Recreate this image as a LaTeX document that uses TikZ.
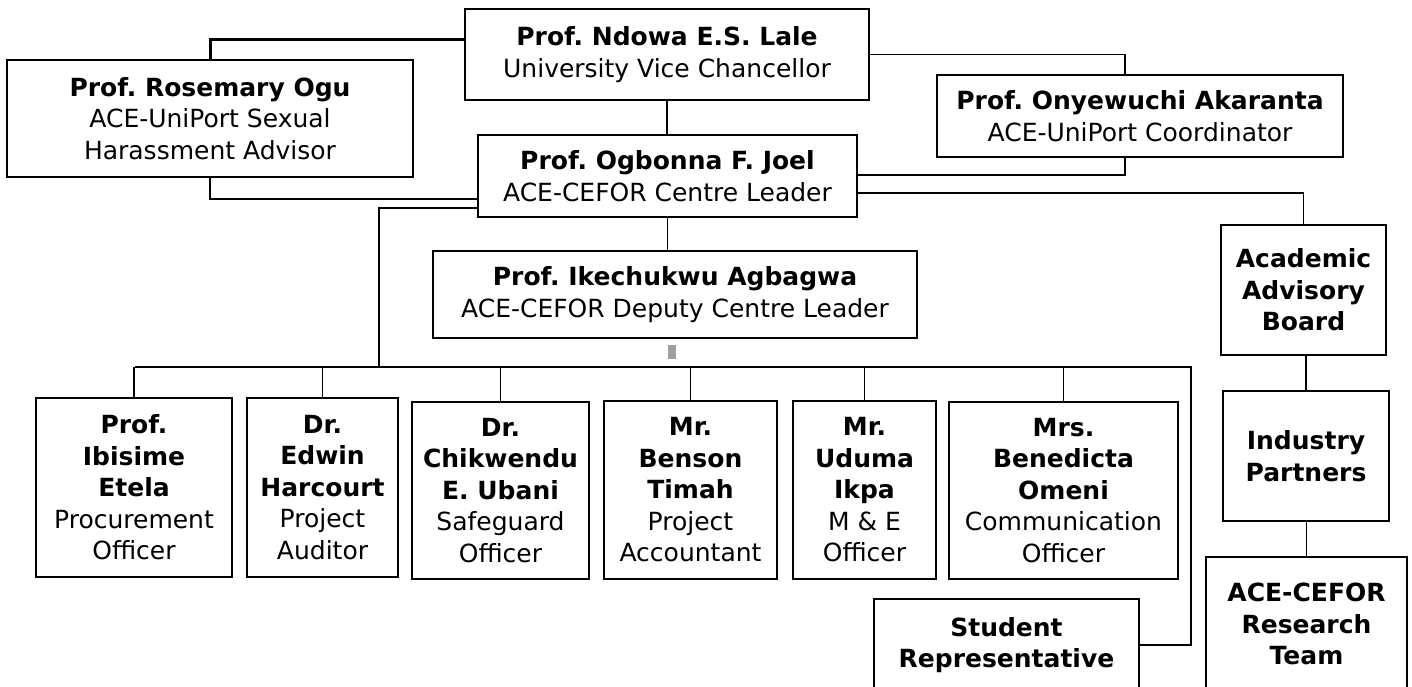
\documentclass[tikz,border=0pt]{standalone}
\usepackage{fontspec}
\setmainfont{DejaVu Sans}
\frenchspacing
\begin{document}
\begin{tikzpicture}[x=1pt,y=-1pt,
  box/.style={draw=black, line width=2pt, inner sep=0pt, align=center,
    font=\fontsize{25}{31.5}\selectfont, fill=white},
  conn/.style={draw=black, line width=1.6pt},
  thick conn/.style={draw=black, line width=3pt}]
\useasboundingbox (0,0) rectangle (1412,686);

% top level
\node[box, minimum width=404pt, minimum height=91pt] (vc) at (667,54.5)
  {\textbf{Prof. Ndowa E.S. Lale}\\University Vice Chancellor};
\node[box, minimum width=406pt, minimum height=117pt] (ogu) at (210,118.5)
  {\textbf{Prof. Rosemary Ogu}\\ACE-UniPort Sexual\\Harassment Advisor};
\node[box, minimum width=406pt, minimum height=82pt] (aka) at (1140,116)
  {\textbf{Prof. Onyewuchi Akaranta}\\ACE-UniPort Coordinator};
\node[box, minimum width=379pt, minimum height=82pt] (joel) at (667.5,176)
  {\textbf{Prof. Ogbonna F. Joel}\\ACE-CEFOR Centre Leader};
\node[box, minimum width=484pt, minimum height=87pt] (agb) at (675,294.5)
  {\textbf{Prof. Ikechukwu Agbagwa}\\ACE-CEFOR Deputy Centre Leader};

% right column
\node[box, minimum width=165pt, minimum height=130pt] (aab) at (1303.5,290)
  {\textbf{Academic}\\\textbf{Advisory}\\\textbf{Board}};
\node[box, minimum width=166pt, minimum height=130pt] (ind) at (1306,456)
  {\textbf{Industry}\\\textbf{Partners}};
\node[box, minimum width=201pt, minimum height=134pt] (res) at (1306.5,624)
  {\textbf{ACE-CEFOR}\\\textbf{Research}\\\textbf{Team}};

% bottom row
\node[box, minimum width=196pt, minimum height=179pt] (b1) at (134,487.5)
  {\textbf{Prof.}\\\textbf{Ibisime}\\\textbf{Etela}\\Procurement\\Officer};
\node[box, minimum width=151pt, minimum height=179pt] (b2) at (322.5,487.5)
  {\textbf{Dr.}\\\textbf{Edwin}\\\textbf{Harcourt}\\Project\\Auditor};
\node[box, minimum width=177pt, minimum height=177pt] (b3) at (500.5,490.5)
  {\textbf{Dr.}\\\textbf{Chikwendu}\\\textbf{E. Ubani}\\Safeguard\\Officer};
\node[box, minimum width=173pt, minimum height=178pt] (b4) at (690.5,490)
  {\textbf{Mr.}\\\textbf{Benson}\\\textbf{Timah}\\Project\\Accountant};
\node[box, minimum width=143pt, minimum height=178pt] (b5) at (864.5,490)
  {\textbf{Mr.}\\\textbf{Uduma}\\\textbf{Ikpa}\\M \& E\\Officer};
\node[box, minimum width=229pt, minimum height=177pt] (b6) at (1063.5,490.5)
  {\textbf{Mrs.}\\\textbf{Benedicta}\\\textbf{Omeni}\\Communication\\Officer};
\node[box, minimum width=265pt, minimum height=92pt] (stu) at (1006.5,645)
  {\textbf{Student}\\\textbf{Representative}};

% bar coordinates
\coordinate (barL) at (135,367);
\coordinate (barR) at (1191,367);
\coordinate (barJ) at (379,367);

% connectors
\draw[conn] (vc.south) -- (vc.south |- joel.north);
\draw[thick conn] (ogu.north) |- ([yshift=15.5pt]vc.west);
\draw[conn] (ogu.south) |- ([yshift=-23pt]joel.west);
\draw[conn] ([yshift=-32pt]joel.west) -| (barJ);
\draw[conn] (vc.east) -| ([xshift=-15pt]aka.north);
\draw[conn] ([yshift=1pt]joel.east) -| ([xshift=-15pt]aka.south);
\draw[conn] ([yshift=-17pt]joel.east) -| (aab.north);
\draw[conn] (joel.south) -- (joel.south |- agb.north);
\draw[conn] (ind.north) -- (ind.north |- aab.south);
\draw[conn] (res.north) -- (res.north |- ind.south);
\draw[conn] (barL) -- (barR) |- (stu.east);
\foreach \b in {b1,b2,b3,b4,b5,b6} {
  \draw[conn] (\b.north) -- (\b.north |- barL);
}
\fill[gray!75] (668,345) rectangle (676,359);
\end{tikzpicture}
\end{document}
